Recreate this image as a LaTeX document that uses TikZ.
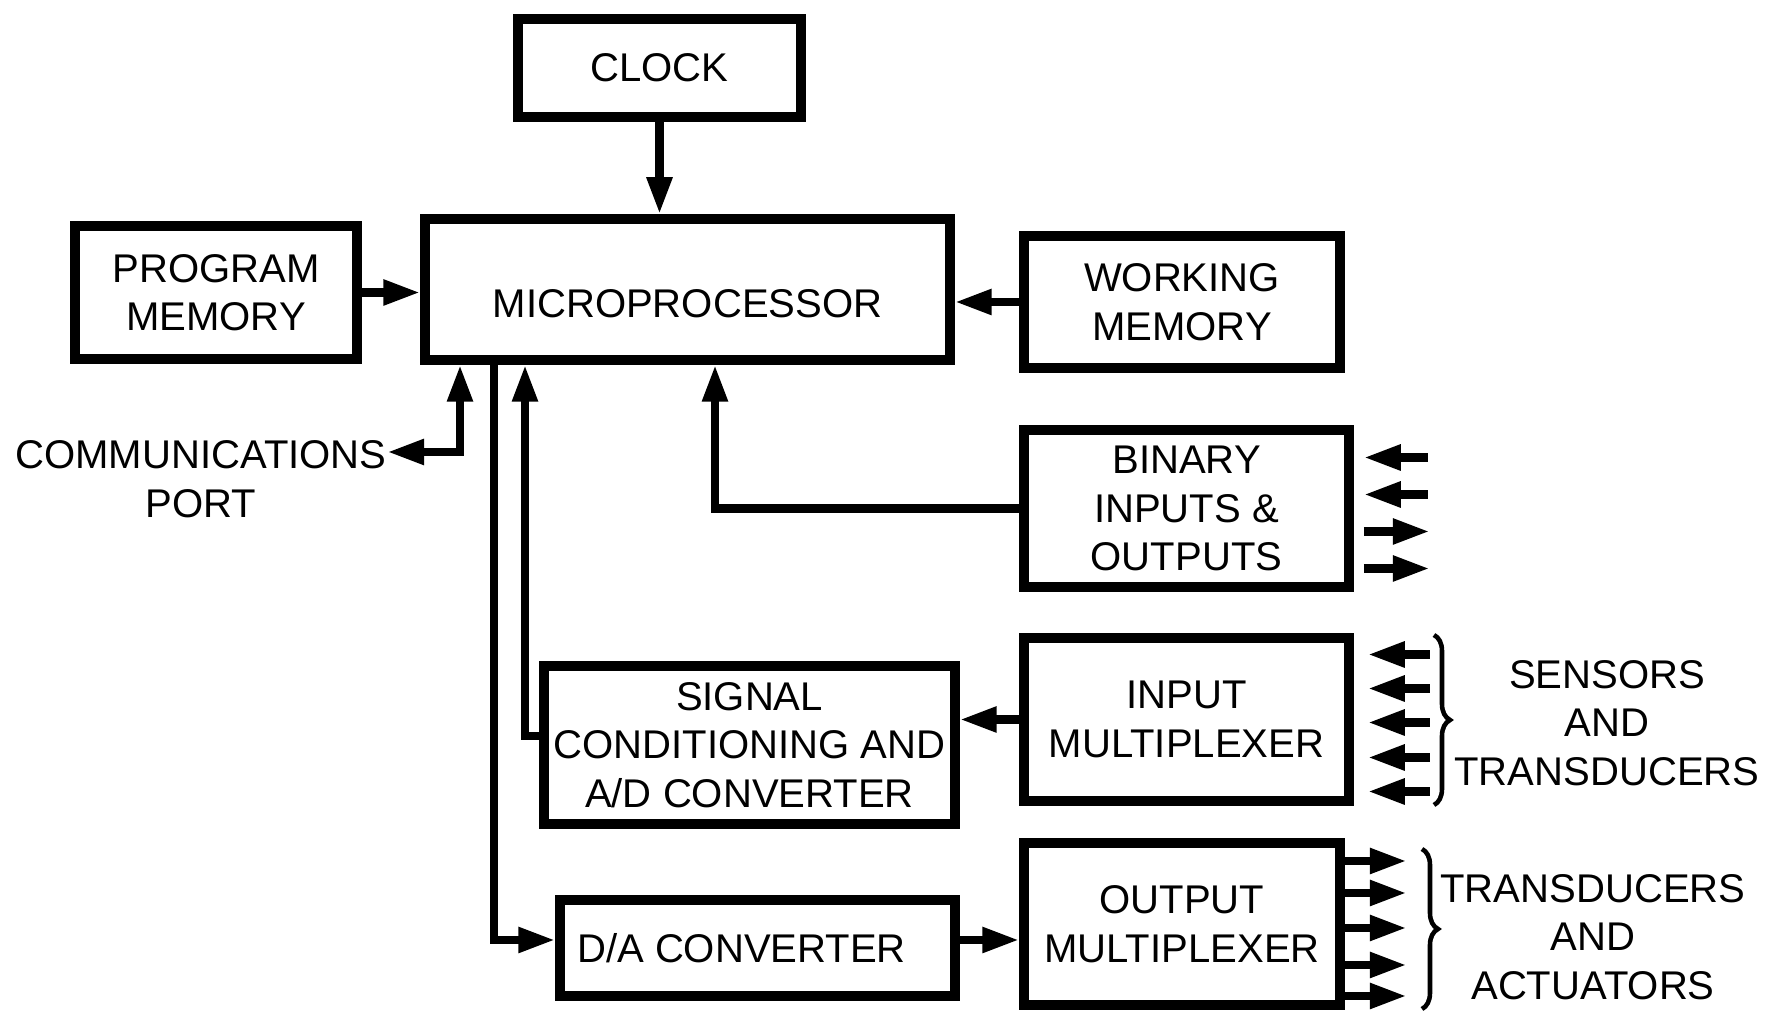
\documentclass[tikz,border=0pt]{standalone}
\usepackage{fontspec}
\setmainfont{Liberation Sans}
\usetikzlibrary{arrows.meta, positioning, decorations.pathreplacing}

\newcommand{\diagfont}{\fontsize{11.4}{13.8}\selectfont}

\begin{document}
\begin{tikzpicture}[
    fat/.tip={Triangle[length=0.37cm, width=0.24cm]},
    blk/.style={draw, line width=2.7pt, inner sep=0pt, align=center, font=\diagfont},
    tag/.style={inner sep=0pt, align=center, font=\diagfont},
    conn/.style={line width=2.4pt, -fat},
    curly/.style={line width=1.3pt, decorate, decoration={brace, amplitude=0.16cm}}
]
    \useasboundingbox (0,0) rectangle (17.71,10.13);

    % CLOCK AND MICROPROCESSOR
    \node[blk, minimum width=2.83cm, minimum height=0.98cm] (clock) at (6.595,9.45) {CLOCK};
    \node[blk, minimum width=5.25cm, minimum height=1.41cm, text height=0.56cm, text depth=0pt]
        (micro) at (6.875,7.235) {MICROPROCESSOR};

    % MEMORIES
    \node[blk, minimum width=2.82cm, minimum height=1.33cm] (progmem) at (2.16,7.205)
        {PROGRAM\\MEMORY};
    \node[blk, minimum width=3.16cm, minimum height=1.32cm] (workmem) at (11.82,7.11)
        {WORKING\\MEMORY};

    % I/O BLOCKS
    \node[blk, minimum width=3.25cm, minimum height=1.57cm] (binary) at (11.865,5.045)
        {BINARY\\INPUTS \&\\OUTPUTS};
    \node[blk, minimum width=3.25cm, minimum height=1.63cm] (inmux) at (11.865,2.935)
        {INPUT\\MULTIPLEXER};
    \node[blk, minimum width=4.11cm, minimum height=1.58cm] (sigcond) at (7.495,2.68)
        {SIGNAL\\CONDITIONING AND\\A/D CONVERTER};
    \node[blk, minimum width=3.95cm, minimum height=0.96cm] (dac) at (7.575,0.65)
        {\hspace*{-0.32cm}D/A CONVERTER};
    \node[blk, minimum width=3.16cm, minimum height=1.62cm] (outmux) at (11.82,0.89)
        {OUTPUT\\MULTIPLEXER};

    % SIDE LABELS
    \node[tag] (comm) at (2.01,5.34) {COMMUNICATIONS\\PORT};
    \node[tag] (sensors) at (16.07,2.90) {SENSORS\\AND\\TRANSDUCERS};
    \node[tag] (actuators) at (15.93,0.76) {TRANSDUCERS\\AND\\ACTUATORS};

    % BUS POSITIONS UNDER THE MICROPROCESSOR
    \coordinate (commbend) at (4.60,5.61);
    \coordinate (dacbus) at (4.94,0);
    \coordinate (adbus) at (5.25,0);
    \coordinate (binbus) at (7.15,0);

    % CONNECTIONS
    \draw[conn] (clock.south) -- (clock.south |- micro.north);
    \draw[conn] (progmem.east) -- (progmem.east -| micro.west);
    \draw[conn] (workmem.west) -- (workmem.west -| micro.east);
    \draw[conn, fat-fat] (commbend -| comm.east) -| (micro.south -| commbend);
    \draw[conn] (micro.south -| dacbus) |- ([yshift=0.08cm]dac.west);
    \draw[conn] ([yshift=0.09cm]sigcond.west) -| (micro.south -| adbus);
    \draw[conn] (binary.west) -| (micro.south -| binbus);
    \draw[conn] (inmux.west) -- (inmux.west -| sigcond.east);
    \draw[conn] ([yshift=0.08cm]dac.east) -- ([yshift=0.08cm]dac.east -| outmux.west);

    % BINARY LINES
    \foreach \dy in {0.51,0.14}
        \draw[conn] ([shift={(0.74,\dy)}]binary.east) -- ([shift={(0.10,\dy)}]binary.east);
    \foreach \dy in {-0.23,-0.60}
        \draw[conn] ([shift={(0.10,\dy)}]binary.east) -- ([shift={(0.76,\dy)}]binary.east);

    % SENSOR LINES
    \foreach \dy in {0.65,0.31,-0.03,-0.38,-0.72}
        \draw[conn] ([shift={(0.76,\dy)}]inmux.east) -- ([shift={(0.14,\dy)}]inmux.east);
    \draw[curly] (14.34,3.78) -- (14.34,2.08);

    % ACTUATOR LINES
    \foreach \dy in {0.63,0.31,-0.04,-0.41,-0.72}
        \draw[conn] ([shift={(0,\dy)}]outmux.east) -- ([shift={(0.62,\dy)}]outmux.east);
    \draw[curly] (14.22,1.64) -- (14.22,0.04);

\end{tikzpicture}
\end{document}
